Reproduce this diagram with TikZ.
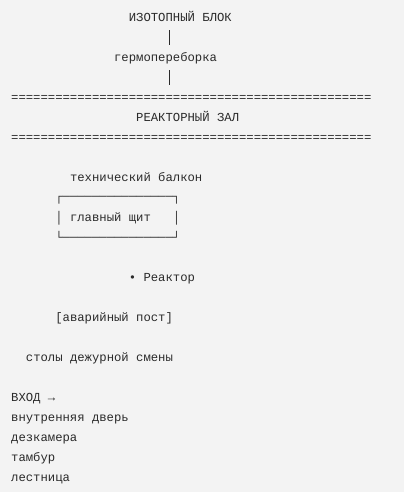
\documentclass[tikz,border=0pt]{standalone}
\usepackage{fontspec}
\newfontfamily\planfont{Liberation Mono}
\definecolor{paper}{HTML}{F3F3F3}
\definecolor{ink}{HTML}{2A2A2A}
\newcommand\sevenEq{=======}

\begin{document}
\begin{tikzpicture}[x=1pt, y=-1pt,
  row/.style={anchor=base west, inner sep=0pt, text height=9pt, text depth=3pt,
    text=ink, font=\planfont\fontsize{12.25}{14}\selectfont},
  bar/.style={draw=ink, line width=0.9pt, shorten <=5.5pt, shorten >=7.5pt}]
  \fill[paper] (0,0) rectangle (404,492);
  \useasboundingbox (0,0) rectangle (404,492);
  \def\cw{7.35}

  \node[row] (blok)    at (11+16*\cw, 21.5)  {ИЗОТОПНЫЙ БЛОК};
  \node[row] (germo)   at (11+14*\cw, 61.5)  {гермопереборка};
  \node[row] (wall1)   at (11, 101.5) {\sevenEq\sevenEq\sevenEq\sevenEq\sevenEq\sevenEq\sevenEq};
  \node[row] (zal)     at (11+17*\cw, 121.5) {РЕАКТОРНЫЙ ЗАЛ};
  \node[row] (wall2)   at (11, 141.5) {\sevenEq\sevenEq\sevenEq\sevenEq\sevenEq\sevenEq\sevenEq};

  \node[row] (balkon)  at (11+8*\cw, 181.5)  {технический балкон};
  \node[row] (boxtop)  at (11+6*\cw, 200.5)  {┌───────────────┐};
  \node[row] (shchit)  at (11+6*\cw, 221.5)  {│ главный щит~~~│};
  \node[row] (boxbot)  at (11+6*\cw, 241.5)  {└───────────────┘};

  \node[row] (reaktor) at (11+16*\cw, 281.5) {• Реактор};
  \node[row] (post)    at (11+6*\cw, 321.5)  {[аварийный пост]};
  \node[row] (smena)   at (11+2*\cw, 361.5)  {столы дежурной смены};

  \node[row] (vhod)    at (11, 401.5) {ВХОД →};
  \node[row] (dver)    at (11, 421.5) {внутренняя дверь};
  \node[row] (dezkam)  at (11, 441.5) {дезкамера};
  \node[row] (tambur)  at (11, 461.5) {тамбур};
  \node[row] (lestn)   at (11, 481.5) {лестница};

  \coordinate (axis) at (11+21.5*\cw, 0);
  \draw[bar] (blok.south -| axis) -- (germo.north -| axis);
  \draw[bar] (germo.south -| axis) -- (wall1.north -| axis);
\end{tikzpicture}
\end{document}
